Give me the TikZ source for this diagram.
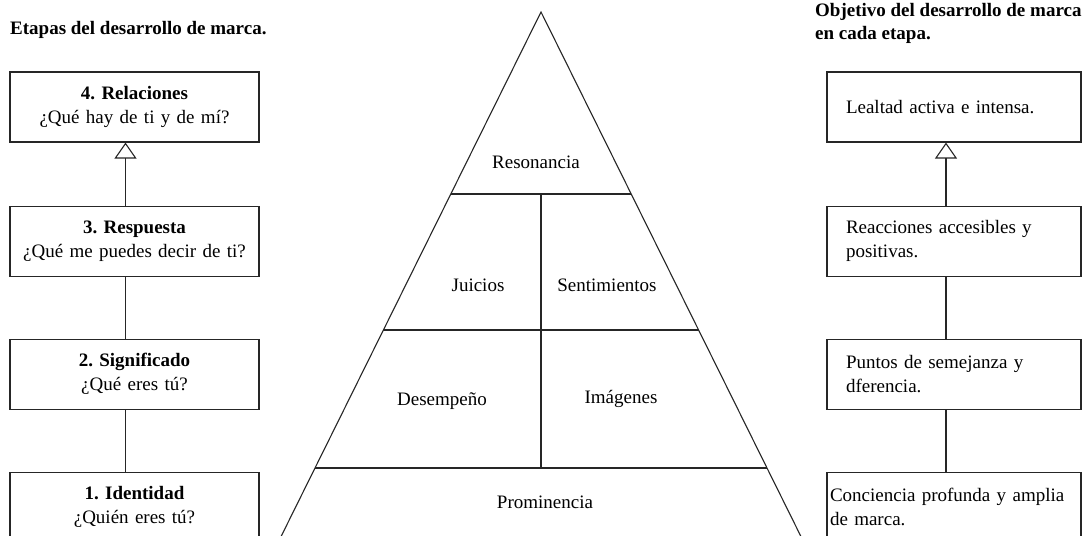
\documentclass[tikz,border=0pt]{standalone}
\usepackage{fontspec}
\setmainfont{Liberation Serif}
\usetikzlibrary{arrows.meta, positioning, math}
\frenchspacing

\tikzset{
  stage/.style={draw=black!85, line width=1.1pt, minimum height=70pt, text width=239pt, inner xsep=5pt, align=center, font=\fontsize{19}{24}\selectfont},
  goal/.style={draw=black!85, line width=1.1pt, minimum height=70pt, text width=216pt, inner xsep=19pt, align=left, font=\fontsize{19}{24}\selectfont},
  tier/.style={font=\fontsize{19}{24}\selectfont},
  link/.style={draw=black!85, line width=1.1pt},
  uplink/.style={link, -{Triangle[open, width=22pt, length=16pt, line width=1.1pt]}},
}

\begin{document}
\begin{tikzpicture}[x=1pt, y=-1pt]
\tikzmath{
\ax=541;
\ay=12;
\s=0.4956;
}
\path[use as bounding box, clip] (0,0) rectangle (1083,535);

%titles
\node[tier, font=\fontsize{19}{24}\selectfont\bfseries, anchor=west, inner sep=0pt] (tl) at (10,30) {Etapas del desarrollo de marca.};
\node[tier, font=\fontsize{19}{23}\selectfont\bfseries, anchor=north west, align=left, inner sep=0pt] (tr) at (815,3) {Objetivo del desarrollo de marca\\en cada etapa.};

%stages
\node[stage] (b4) at (134.5,107) {\textbf{4. Relaciones}\\¿Qué hay de ti y de mí?};
\node[stage, below=63pt of b4] (b3) {\textbf{3. Respuesta}\\¿Qué me puedes decir de ti?};
\node[stage, below=62pt of b3] (b2) {\textbf{2. Significado}\\¿Qué eres tú?};
\node[stage, below=62pt of b2] (b1) {\textbf{1. Identidad}\\¿Quién eres tú?};

\draw[uplink] ([xshift=-9pt]b3.north) -- ([xshift=-9pt]b4.south);
\draw[link] ([xshift=-9pt]b2.north) -- ([xshift=-9pt]b3.south);
\draw[link] ([xshift=-9pt]b1.north) -- ([xshift=-9pt]b2.south);

%goals
\node[goal] (r4) at (954,107) {Lealtad activa e intensa.};
\node[goal, below=63pt of r4] (r3) {Reacciones accesibles y\\positivas.};
\node[goal, below=62pt of r3] (r2) {Puntos de semejanza y\\dferencia.};
\node[goal, below=62pt of r2, text width=248pt, inner xsep=3pt] (r1) {Conciencia profunda y amplia\\de marca.};

\draw[uplink] ([xshift=-8pt]r3.north) -- ([xshift=-8pt]r4.south);
\draw[link] ([xshift=-8pt]r2.north) -- ([xshift=-8pt]r3.south);
\draw[link] ([xshift=-8pt]r1.north) -- ([xshift=-8pt]r2.south);

%pyramid
\draw[link, line join=miter] ({\ax-\s*(560-\ay)},560) -- (\ax,\ay) -- ({\ax+\s*(560-\ay)},560);
\foreach \y in {194,330,468}{
  \draw[link] ({\ax-\s*(\y-\ay)},\y) -- ({\ax+\s*(\y-\ay)},\y);
}
\draw[link] (\ax,194) -- (\ax,468);

\node[tier] (res) at (536,162) {Resonancia};
\node[tier] (jui) at (478,285) {Juicios};
\node[tier] (sen) at (607,285) {Sentimientos};
\node[tier] (des) at (442,401) {Desempeño};
\node[tier] (ima) at (621,399) {Imágenes};
\node[tier] (pro) at (545,502) {Prominencia};
\end{tikzpicture}
\end{document}
